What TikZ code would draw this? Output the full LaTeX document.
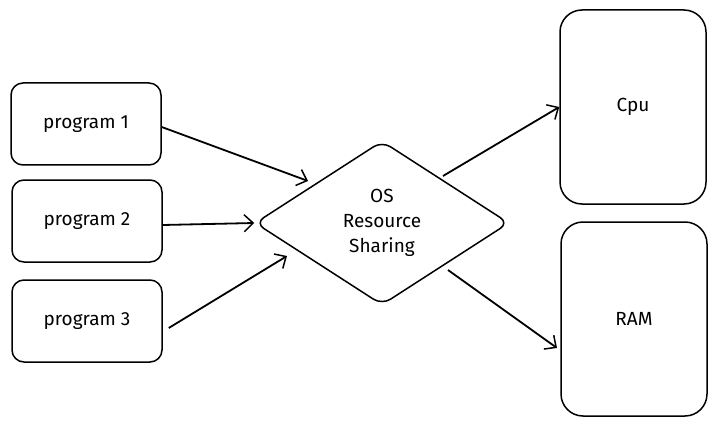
\documentclass[tikz,border=0pt]{standalone}
\usepackage{fontspec}
\setmainfont{Fira Sans}
\usetikzlibrary{shapes.geometric,arrows.meta}
\tikzset{
  progbox/.style={rectangle,draw,line width=1.5pt,rounded corners=12pt,minimum width=150pt,minimum height=82pt},
  hwbox/.style={rectangle,draw,line width=1.5pt,rounded corners=22pt,minimum width=146pt,minimum height=194pt},
  link/.style={line width=1.8pt,-{Straight Barb[length=9pt,width=17pt,line width=1.5pt]}}
}
\begin{document}
\begin{tikzpicture}[x=1pt,y=-1pt,font=\fontsize{19}{25}\selectfont]
\useasboundingbox (0,0) rectangle (716,428);
\node (p1) [progbox] at (86,124) {program 1};
\node (p2) [progbox] at (87,221) {program 2};
\node (p3) [progbox] at (87,321) {program 3};
\node (os) [diamond,draw,line width=1.5pt,rounded corners=10pt,aspect=1.575,minimum width=254pt,minimum height=164pt,inner sep=0pt,align=center] at (382,223) {OS\\Resource\\Sharing};
\node (cpu) [hwbox] at (633,107) {Cpu};
\node (ram) [hwbox] at (634,319) {RAM};

\draw [link] (p1.east)+(0,3) -- (308,181);
\draw [link] (p2.east)+(0,4) -- (os.west);
\draw [link] (p3.east)+(6,7) -- (287,256);
\draw [link] (443,176) -- (cpu.west);
\draw [link] (448,270) -- (557,348);
\end{tikzpicture}
\end{document}
